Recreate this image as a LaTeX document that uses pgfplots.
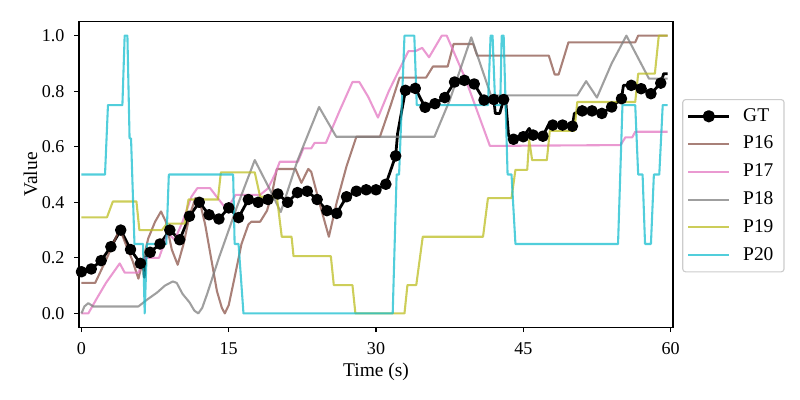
\documentclass[border=0pt]{standalone}
\usepackage{fontspec}
\setmainfont{Liberation Serif}
\usepackage{pgfplots}
\pgfplotsset{compat=1.18}
\definecolor{tbrown}{RGB}{140,86,75}
\definecolor{tpink}{RGB}{227,119,194}
\definecolor{tgray}{RGB}{127,127,127}
\definecolor{tolive}{RGB}{188,189,34}
\definecolor{tcyan}{RGB}{23,190,207}
\definecolor{legframe}{RGB}{204,204,204}
\newcommand{\lpad}{\hspace*{3.6pt}}
\begin{document}
\begin{tikzpicture}
\useasboundingbox (-56.88pt,-52.34pt) rectangle (519.12pt,235.66pt);
\begin{axis}[
  scale only axis, width=427.7pt, height=220pt,
  at={(0,0)}, anchor=south west,
  xmin=-0.25, xmax=60.25, ymin=-0.05, ymax=1.05,
  xtick={0,15,30,45,60}, ytick={0,0.2,0.4,0.6,0.8,1.0},
  xticklabels={0,15,30,45,60},
  yticklabels={0.0,0.2,0.4,0.6,0.8,1.0},
  tick align=outside, tick pos=left,
  major tick length=3.5pt,
  every tick/.style={black, line width=0.8pt},
  axis line style={line width=0.8pt},
  /pgf/number format/assume math mode=true,
  tick label style={font=\fontsize{13}{15}\selectfont},
  xticklabel style={yshift=-3.7pt},
  yticklabel style={xshift=-3.4pt},
  label style={font=\fontsize{14}{16}\selectfont},
  xlabel={Time (s)}, ylabel={Value},
  xlabel style={at={(axis description cs:0.5,0)}, anchor=base, yshift=-35.1pt},
  ylabel style={at={(axis description cs:-0.0707,0.5)}, anchor=base},
  legend style={at={(1.0155,0.747)}, anchor=north west, draw=legframe, rounded corners=2pt, line width=0.8pt,
    font=\fontsize{14}{16}\selectfont, inner xsep=3pt, inner ysep=5pt, row sep=6pt,
    nodes={inner sep=1pt, text height=9.5pt, text depth=2.5pt},
    /tikz/every odd column/.append style={column sep=8pt}},
  legend cell align=left,
  legend image code/.code={\draw[mark repeat=2, mark phase=2, #1] plot coordinates {(0pt,0pt) (14.75pt,0pt) (29.5pt,0pt)};},
  every axis plot/.append style={line width=1.5pt, line join=round},
]
% GT line
\addplot[black, line width=2pt, forget plot] coordinates {
(0,0.15)(1,0.16)(2,0.19)(3,0.24)(4,0.30)(5,0.23)(6,0.18)(6.3,0.19)(6.4,0.13)(6.5,0.2)(7,0.22)(8,0.25)(9,0.30)(10,0.265)(11,0.35)(12,0.40)(13,0.355)(14,0.34)(15,0.38)(16,0.345)(17,0.41)(18,0.40)(19,0.41)(20,0.43)(21,0.40)(22,0.435)(23,0.44)(24,0.41)(25,0.37)(26,0.36)(27,0.42)(28,0.44)(29,0.445)(30,0.445)(31,0.465)(32,0.567)(32.2,0.648)(33,0.803)(34,0.81)(35,0.742)(36,0.755)(37,0.777)(38,0.833)(39,0.839)(40,0.826)(41,0.768)(42,0.77)(42.15,0.72)(42.6,0.72)(43,0.77)(43.2,0.77)(43.5,0.64)(44,0.627)(45,0.636)(45.6,0.666)(46,0.642)(47,0.638)(47.5,0.675)(48,0.678)(49,0.678)(50,0.674)(50.2,0.72)(51,0.729)(52,0.729)(53,0.72)(54,0.743)(55,0.773)(55.2,0.821)(56,0.821)(57,0.809)(58,0.791)(59,0.829)(59.3,0.863)(59.7,0.863)
};
% GT markers
\addplot[only marks, mark=*, mark size=3.4pt, mark options={fill=black, draw=black}, forget plot] coordinates {
(0,0.15)(1,0.16)(2,0.19)(3,0.24)(4,0.30)(5,0.23)(6,0.18)(7,0.22)(8,0.25)(9,0.30)(10,0.265)(11,0.35)(12,0.40)(13,0.355)(14,0.34)(15,0.38)(16,0.345)(17,0.41)(18,0.40)(19,0.41)(20,0.43)(21,0.40)(22,0.435)(23,0.44)(24,0.41)(25,0.37)(26,0.36)(27,0.42)(28,0.44)(29,0.445)(30,0.445)(31,0.465)(32,0.567)(33,0.803)(34,0.81)(35,0.742)(36,0.755)(37,0.777)(38,0.833)(39,0.839)(40,0.826)(41,0.768)(42,0.77)(43,0.77)(44,0.627)(45,0.636)(46,0.642)(47,0.638)(48,0.678)(49,0.678)(50,0.674)(51,0.729)(52,0.729)(53,0.72)(54,0.743)(55,0.773)(56,0.821)(57,0.809)(58,0.791)(59,0.829)
};
\addlegendimage{black, line width=2pt, mark=*, mark size=3.4pt, mark options={fill=black}}
\addlegendentry{GT\lpad}
% P16
\addplot[tbrown, draw opacity=0.75] coordinates {
(0,0.11)(1.4,0.11)(2.6,0.2)(3.9,0.305)(4.5,0.25)(5.2,0.19)(5.8,0.125)(6.2,0.18)(6.8,0.27)(7.5,0.33)(8.1,0.367)(8.6,0.33)(9.2,0.23)(9.8,0.175)(10.4,0.25)(11.0,0.35)(11.6,0.415)(12.0,0.41)(12.6,0.32)(13.2,0.2)(13.8,0.08)(14.3,0.02)(14.6,0.0)(15.0,0.03)(15.6,0.13)(16.3,0.25)(17.0,0.32)(17.3,0.33)(18.2,0.33)(18.9,0.37)(19.4,0.43)(19.9,0.52)(21.8,0.52)(22.4,0.47)(23.1,0.52)(23.4,0.51)(24.3,0.39)(25.2,0.276)(26.0,0.40)(27.0,0.53)(28.0,0.636)(30.4,0.636)(31.5,0.75)(32.4,0.849)(35.1,0.849)(35.8,0.889)(37.3,0.889)(37.9,0.97)(39.9,0.97)(40.3,0.928)(47.6,0.928)(48.2,0.86)(48.6,0.86)(49.6,0.976)(56.4,0.976)(56.7,1.0)(59.7,1.0)
};
\addlegendentry{P16\lpad}
% P17
\addplot[tpink, draw opacity=0.75] coordinates {
(0,0)(0.7,0)(1.5,0.05)(2.5,0.11)(3.9,0.18)(4.4,0.147)(5.8,0.147)(6.5,0.2)(7.9,0.2)(8.8,0.29)(9.5,0.265)(10.3,0.33)(11.2,0.42)(11.8,0.451)(13.1,0.451)(14.8,0.373)(15.7,0.427)(18.2,0.427)(19.0,0.45)(19.7,0.50)(20.2,0.546)(22.05,0.546)(22.6,0.594)(23.4,0.594)(23.75,0.614)(24.9,0.614)(26.3,0.73)(27.6,0.833)(28.3,0.833)(29.2,0.78)(30.2,0.705)(31.3,0.80)(32.5,0.887)(33.3,0.944)(34.0,0.944)(34.7,0.956)(35.4,0.922)(36.7,1.0)(37.2,1.0)(39.1,0.845)(41.6,0.603)(54.9,0.606)(55.4,0.634)(56.1,0.634)(56.4,0.654)(59.7,0.654)
};
\addlegendentry{P17\lpad}
% P18
\addplot[tgray, draw opacity=0.75] coordinates {
(0,0)(0.3,0.025)(0.7,0.037)(1.2,0.025)(5.8,0.025)(6.7,0.05)(7.7,0.075)(8.5,0.1)(9.3,0.115)(9.7,0.11)(10.3,0.07)(11.0,0.04)(11.5,0.01)(11.9,0.0)(12.3,0.02)(12.8,0.07)(14.0,0.2)(15.8,0.38)(17.65,0.552)(19.2,0.445)(20.3,0.365)(22.0,0.55)(24.2,0.743)(25.95,0.636)(35.95,0.636)(37.5,0.767)(39.7,0.994)(41.7,0.785)(50.5,0.785)(51.4,0.836)(52.5,0.777)(54.0,0.9)(55.5,1.0)(57.8,0.845)(59.7,0.845)
};
\addlegendentry{P18\lpad}
% P19
\addplot[tolive, draw opacity=0.75] coordinates {
(0,0.346)(2.6,0.346)(3.2,0.403)(5.6,0.403)(5.9,0.30)(8.2,0.30)(8.7,0.323)(10.5,0.323)(10.9,0.41)(13.9,0.41)(14.2,0.508)(17.65,0.508)(18.2,0.42)(19.9,0.42)(20.4,0.276)(21.4,0.276)(21.6,0.206)(25.4,0.206)(25.7,0.102)(27.6,0.102)(27.9,0.0)(32.9,0.0)(33.2,0.102)(34.1,0.102)(34.76,0.276)(40.9,0.276)(41.4,0.415)(43.8,0.415)(44.2,0.517)(45.4,0.517)(45.6,0.624)(45.9,0.552)(47.4,0.552)(47.7,0.657)(50.2,0.657)(50.5,0.761)(56.4,0.761)(56.7,0.863)(58.4,0.863)(58.8,1.0)(59.7,1.0)
};
\addlegendentry{P19\lpad}
% P20
\addplot[tcyan, draw opacity=0.75] coordinates {
(0,0.5)(2.4,0.5)(2.7,0.75)(4.17,0.75)(4.4,1.0)(4.68,1.0)(4.9,0.63)(5.05,0.63)(5.4,0.25)(6.27,0.25)(6.44,0.0)(6.67,0.25)(8.64,0.25)(8.9,0.5)(15.45,0.5)(15.6,0.25)(16.0,0.25)(16.5,0.0)(31.7,0.0)(32.1,0.5)(32.35,0.5)(32.9,1.0)(33.9,1.0)(34.15,0.75)(41.4,0.75)(41.67,1.0)(41.87,1.0)(42.14,0.75)(42.65,0.75)(42.8,1.0)(43.0,1.0)(43.4,0.5)(43.8,0.5)(44.2,0.25)(54.65,0.25)(55.1,0.75)(56.4,0.75)(56.7,0.5)(57.15,0.5)(57.4,0.25)(58.0,0.25)(58.3,0.5)(58.85,0.5)(59.2,0.75)(59.7,0.75)
};
\addlegendentry{P20\lpad}
\end{axis}
\end{tikzpicture}
\end{document}
